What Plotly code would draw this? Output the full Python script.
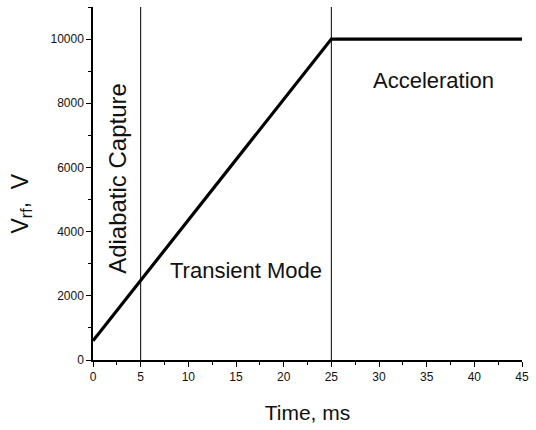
import plotly.graph_objects as go

# Data
time_ms = [0, 25, 45]
vrf_v = [600, 10000, 10000]
phase_boundaries = [5, 25]
labels = ["Adiabatic Capture", "Transient Mode", "Acceleration"]
label_x = [2.5, 16.0, 35.7]
label_y = [5670, 2800, 8725]
label_angle = [-90, 0, 0]
label_size = [24, 22, 22]
x_ticks = [0, 5, 10, 15, 20, 25, 30, 35, 40, 45]
y_ticks = [0, 2000, 4000, 6000, 8000, 10000]
y_ticktext = [str(v) for v in y_ticks]

FONT = "Liberation Sans, Arial, sans-serif"

fig = go.Figure()

for b in phase_boundaries:
    fig.add_trace(go.Scatter(x=[b, b], y=[0, 11000], mode="lines",
                             line=dict(color="black", width=1), showlegend=False,
                             hoverinfo="skip"))

fig.add_trace(go.Scatter(x=time_ms, y=vrf_v, mode="lines",
                         line=dict(color="black", width=3.2), showlegend=False))

for t, x, y, a, s in zip(labels, label_x, label_y, label_angle, label_size):
    fig.add_annotation(x=x, y=y, text=t, textangle=a, showarrow=False,
                       font=dict(family=FONT, size=s, color="#111"))

# y-axis title as annotation
fig.add_annotation(xref="paper", yref="paper", x=-0.205, y=0.442,
                   text="V<sub>rf</sub>,  V", textangle=-90, showarrow=False,
                   font=dict(family=FONT, size=23, color="#111"))

axis_common = dict(showline=True, linecolor="black", linewidth=1.5, ticks="outside",
                   tickcolor="black", tickwidth=1.2, ticklen=5, showgrid=False,
                   zeroline=False, mirror=False,
                   tickfont=dict(family=FONT, size=12, color="#111"))

fig.update_xaxes(range=[0, 45], tickvals=x_ticks,
                 minor=dict(dtick=2.5, tick0=0, ticks="outside", ticklen=3, tickcolor="black", tickwidth=1),
                 title=dict(text="Time, ms", font=dict(family=FONT, size=21, color="#111"),
                            standoff=22),
                 **axis_common)
fig.update_yaxes(range=[0, 11000], tickvals=y_ticks, ticktext=y_ticktext,
                 minor=dict(dtick=1000, tick0=0, ticks="outside", ticklen=3, tickcolor="black", tickwidth=1),
                 **axis_common)

fig.update_layout(width=536, height=430, margin=dict(l=93, r=8, t=7, b=70),
                  plot_bgcolor="white", paper_bgcolor="white")

fig.write_html("out.html")
